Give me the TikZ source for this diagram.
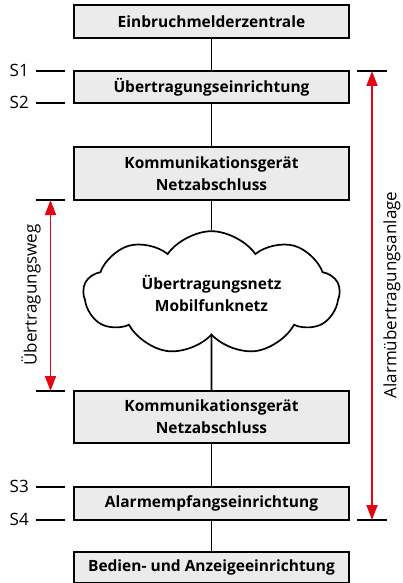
\documentclass[tikz,border=0pt]{standalone}
\usepackage{fontspec}
\setmainfont{Open Sans}
\usetikzlibrary{shapes.symbols}
\usetikzlibrary{arrows.meta}
\usetikzlibrary{calc}
\definecolor{boxgray}{HTML}{EBEBEB}
\definecolor{arrred}{HTML}{E30613}
\tikzset{
  unit/.style={draw, line width=1.7pt, fill=boxgray, minimum width=275pt, inner sep=0pt,
    font=\fontsize{15.5}{22}\selectfont\bfseries, align=center},
  link/.style={line width=1.9pt},
  tick/.style={line width=1.8pt},
  span/.style={draw=arrred, line width=1.8pt, {Triangle[length=15pt,width=11pt]}-{Triangle[length=15pt,width=11pt]}},
  side/.style={font=\fontsize{17}{20}\selectfont}
}
\begin{document}
\begin{tikzpicture}[x=1pt,y=-1pt]
  \useasboundingbox (0,0) rectangle (403,583);

  \node[unit, minimum height=33pt] (zentrale) at (211.5,21.5) {Einbruchmelderzentrale};
  \node[unit, minimum height=32pt] (ueinr) at (211.5,87) {Übertragungseinrichtung};
  \node[unit, minimum height=53pt] (komm1) at (211.5,173.5) {Kommunikationsgerät\\Netzabschluss};
  \node[draw, line width=1.7pt, fill=white, cloud, cloud puffs=9, cloud puff arc=110, aspect=2.1,
        minimum width=256pt, minimum height=122pt, inner sep=0pt,
        font=\fontsize{15.5}{22}\selectfont\bfseries, align=center] (netz) at (211.5,293) {Übertragungsnetz\\Mobilfunknetz};
  \node[unit, minimum height=52pt] (komm2) at (211.5,417) {Kommunikationsgerät\\Netzabschluss};
  \node[unit, minimum height=33pt] (empf) at (211.5,503.5) {Alarmempfangseinrichtung};
  \node[unit, minimum height=31pt] (bedien) at (211.5,567.5) {Bedien- und Anzeigeeinrichtung};

  \path[link] (zentrale) edge (ueinr);
  \path[link] (ueinr) edge (komm1);
  \path[link] (komm1) edge (netz);
  \path[link] (netz) edge (komm2);
  \path[link] (komm2) edge (empf);
  \path[link] (empf) edge (bedien);

  % interfaces left
  \coordinate (t1a) at (36,71);   \coordinate (t1b) at (65,71);
  \coordinate (t2a) at (36,103);  \coordinate (t2b) at (65,103);
  \coordinate (t3a) at (36,487);  \coordinate (t3b) at (65,487);
  \coordinate (t4a) at (36,520);  \coordinate (t4b) at (65,520);
  \coordinate (wga) at (36,200);  \coordinate (wgb) at (65,200);
  \coordinate (wha) at (36,391);  \coordinate (whb) at (65,391);
  \draw[tick] (t1a) -- (t1b);
  \draw[tick] (t2a) -- (t2b);
  \draw[tick] (t3a) -- (t3b);
  \draw[tick] (t4a) -- (t4b);
  \draw[tick] (wga) -- (wgb);
  \draw[tick] (wha) -- (whb);
  \node[side, anchor=east, inner sep=0pt] (s1) at (29,70) {S1};
  \node[side, anchor=east, inner sep=0pt] (s2) at (29,102) {S2};
  \node[side, anchor=east, inner sep=0pt] (s3) at (29,486) {S3};
  \node[side, anchor=east, inner sep=0pt] (s4) at (29,519) {S4};

  % interfaces right
  \coordinate (r1a) at (357,71);  \coordinate (r1b) at (387,71);
  \coordinate (r2a) at (357,520); \coordinate (r2b) at (387,520);
  \draw[tick] (r1a) -- (r1b);
  \draw[tick] (r2a) -- (r2b);

  % spans
  \coordinate (wtop) at ($(wga)!0.5!(wgb)$);
  \coordinate (wbot) at ($(wha)!0.5!(whb)$);
  \draw[span] (wtop) -- (wbot);
  \node[side, rotate=90, inner sep=0pt] (weg) at (31,295) {Übertragungsweg};

  \coordinate (atop) at ($(r1a)!0.5!(r1b)$);
  \coordinate (abot) at ($(r2a)!0.5!(r2b)$);
  \draw[span] (atop) -- (abot);
  \node[side, rotate=90, inner sep=0pt] (anlage) at (392,295) {Alarmübertragungsanlage};
\end{tikzpicture}
\end{document}
